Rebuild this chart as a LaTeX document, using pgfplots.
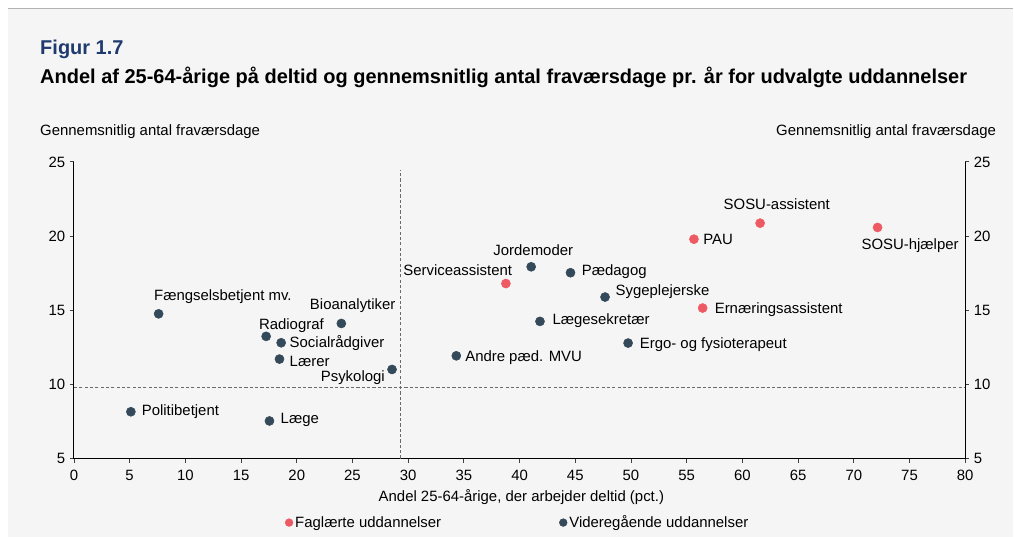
\documentclass[border=0pt]{standalone}
\usepackage{fontspec}
\setmainfont{Liberation Sans}
\usepackage{pgfplots}
\pgfplotsset{compat=1.18}
\definecolor{bg}{HTML}{F5F5F5}
\definecolor{redpt}{HTML}{EE5A64}
\definecolor{bluept}{HTML}{34495A}
\definecolor{titleblue}{HTML}{1F3A6E}
\definecolor{dashgray}{HTML}{6A6A6A}
\newcommand{\sz}{\fontsize{11.2}{13.4}\selectfont}
\begin{document}
\begin{tikzpicture}[x=0.75pt,y=0.75pt]
\fill[white] (0,0) rectangle (1014,537);
\fill[bg] (8,0) rectangle (1014,528);
\draw[color=black!30, line width=1.2pt] (8,528.5) -- (1014,528.5);
% titles
\node[anchor=base west, inner sep=0, font=\fontsize{15}{18}\selectfont\bfseries, text=titleblue] at (40,537-55) {Figur 1.7};
\node[anchor=base west, inner sep=0, font=\fontsize{15}{18}\selectfont\bfseries] at (40,537-84) {Andel af 25-64-årige på deltid og gennemsnitlig antal fraværsdage pr. år for udvalgte uddannelser};
\node[anchor=base west, inner sep=0, font=\sz] at (40,537-136) {Gennemsnitlig antal fraværsdage};
\node[anchor=base east, inner sep=0, font=\sz] at (997,537-136) {Gennemsnitlig antal fraværsdage};

\begin{axis}[
  at={(55.5pt,58.5pt)}, anchor=south west,
  x=8.3625pt, y=11.1375pt,
  xmin=0, xmax=80, ymin=5, ymax=25,
  enlargelimits=false, clip=false,
  axis x line*=bottom, axis y line*=left,
  xtick={0,5,...,80}, ytick={5,10,...,25},
  tick align=outside, major tick length=3pt,
  tick style={black!75, line width=0.6pt},
  axis line style={black, line width=0.7pt},
  tick label style={font=\sz},
  xticklabel style={yshift=-2.25pt},
  /pgf/number format/assume math mode=true,
  xlabel={Andel 25-64-årige, der arbejder deltid (pct.)},
  xlabel style={font=\sz, at={(axis description cs:0.502,-0.1448)}, anchor=base, inner sep=0},
  legend style={draw=none, fill=none, legend columns=2, font=\sz,
    at={(axis description cs:0.232,-0.2155)}, anchor=west,
    nodes={inner xsep=1.5pt, inner ysep=1pt},
    /tikz/every even column/.append style={column sep=87pt}},
  legend image code/.code={\fill (0pt,0pt) circle (2.9pt);},
]
\addplot[only marks, mark=*, mark size=3.4pt, color=redpt, mark options={draw=redpt, fill=redpt}] coordinates {
 (38.77,16.80) (55.65,19.79) (61.59,20.87) (72.13,20.58) (56.43,15.15)};
\addlegendentry{Faglærte uddannelser}
\addplot[only marks, mark=*, mark size=3.4pt, color=bluept, mark options={draw=bluept, fill=bluept}] coordinates {
 (7.60,14.76) (17.25,13.24) (18.60,12.81) (18.45,11.71) (24.00,14.11)
 (28.55,11.01) (5.11,8.16) (17.55,7.54) (34.32,11.93) (41.04,17.93)
 (44.57,17.53) (47.67,15.89) (41.83,14.25) (49.74,12.79)};
\addlegendentry{Videregående uddannelser}
\addplot[dashgray, line width=1pt, dash pattern=on 2.4pt off 1.6pt, forget plot] coordinates {(29.3,5) (29.3,24.46)};
\addplot[dashgray, line width=1pt, dash pattern=on 2.4pt off 1.6pt, forget plot] coordinates {(0,9.78) (80,9.78)};
\end{axis}

\begin{axis}[
  at={(55.5pt,58.5pt)}, anchor=south west,
  x=8.3625pt, y=11.1375pt,
  xmin=0, xmax=80, ymin=5, ymax=25,
  enlargelimits=false,
  axis x line=none, axis y line*=right,
  ytick={5,10,...,25},
  tick align=outside, major tick length=3pt,
  tick style={black!75, line width=0.6pt},
  axis line style={black, line width=0.7pt},
  tick label style={font=\sz},
  /pgf/number format/assume math mode=true,
]
\addplot[draw=none, forget plot] coordinates {(0,5) (80,25)};
\end{axis}

% point labels
\begin{scope}[every node/.style={inner sep=0, font=\sz}]
\node[anchor=base west] at (154,537-300.7) {Fængselsbetjent mv.};
\node[anchor=base east] at (396,537-310) {Bioanalytiker};
\node[anchor=base west] at (259,537-330) {Radiograf};
\node[anchor=base west] at (289.7,537-348) {Socialrådgiver};
\node[anchor=base west] at (289.7,537-366.7) {Lærer};
\node[anchor=base east] at (385.3,537-381.7) {Psykologi};
\node[anchor=base west] at (141.7,537-416) {Politibetjent};
\node[anchor=base west] at (280.7,537-424) {Læge};
\node[anchor=base west] at (465.4,537-362) {Andre pæd. MVU};
\node[anchor=base east] at (512.7,537-275.7) {Serviceassistent};
\node[anchor=base] at (533.7,537-255.3) {Jordemoder};
\node[anchor=base west] at (582.1,537-275.7) {Pædagog};
\node[anchor=base west] at (615.9,537-295.7) {Sygeplejerske};
\node[anchor=base west] at (552.7,537-325) {Lægesekretær};
\node[anchor=base west] at (640.1,537-349) {Ergo- og fysioterapeut};
\node[anchor=base west] at (703.6,537-244.3) {PAU};
\node[anchor=base] at (777.4,537-210) {SOSU-assistent};
\node[anchor=base] at (910.8,537-250) {SOSU-hjælper};
\node[anchor=base west] at (715.1,537-314) {Ernæringsassistent};
\end{scope}
\end{tikzpicture}
\end{document}
